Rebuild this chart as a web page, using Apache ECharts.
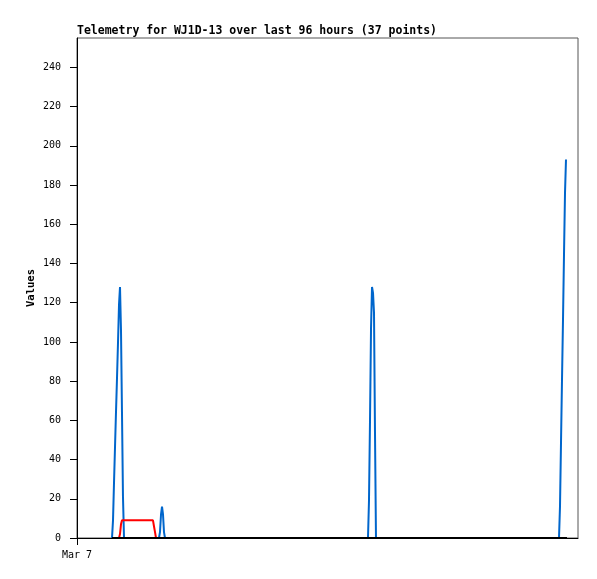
<!DOCTYPE html>
<html>
<head>
<meta charset="utf-8">
<script src="https://cdn.jsdelivr.net/npm/echarts@6/dist/echarts.min.js"></script>
<style>html,body{margin:0;padding:0;background:#fff}#c{width:597px;height:579px}</style>
</head>
<body>
<div id="c"></div>
<script>
// Hours since Mar 7 00:00
var blueTimes = [6.71, 6.90, 7.09, 7.28, 7.47, 7.67, 7.86, 8.05, 8.24, 8.43, 8.62, 8.81, 9.01,
                 15.71, 15.90, 16.10, 16.29, 16.48, 16.67, 16.86,
                 55.76, 55.95, 56.14, 56.34, 56.53, 56.72, 56.91, 57.10, 57.29,
                 92.36, 92.55, 92.74, 92.93, 93.13, 93.32, 93.51, 93.70];
var blueValues = [0, 9, 28, 46, 64, 82, 100, 119, 128, 106, 64, 21, 0,
                  0, 3, 12, 16, 12, 3, 0,
                  0, 19, 59, 107, 128, 125, 115, 54, 0,
                  0, 16, 48, 80, 112, 145, 176, 193];
var redTimes = [8.05, 8.24, 8.43, 8.62, 14.56, 14.75, 14.95, 15.14];
var redValues = [0, 2, 7, 9, 9, 6, 3, 0];
var zeroTimes = [6.71, 93.89];
var zeroValues = [0, 0];
var xTickLabels = ['Mar 7'];
var xTickValues = [0];

function zip(a, b) { return a.map(function (v, i) { return [v, b[i]]; }); }

var mono = 'DejaVu Sans Mono';
var chart = echarts.init(document.getElementById('c'), null, {renderer: 'canvas'});
chart.setOption({
  animation: false,
  backgroundColor: '#fff',
  title: {
    text: 'Telemetry for WJ1D-13 over last 96 hours (37 points)',
    left: 77, top: 25, padding: 0,
    textStyle: {fontFamily: mono, fontWeight: 'bold', fontSize: 11.5, color: '#000'}
  },
  grid: {left: 77, top: 38, right: 19, bottom: 41, show: true, borderColor: '#555', borderWidth: 1, containLabel: false},
  xAxis: {
    type: 'value', min: 0, max: 96,
    splitLine: {show: false},
    axisLine: {show: true, onZero: false, lineStyle: {color: '#000', width: 1}},
    axisTick: {show: true, length: 7, customValues: xTickValues, lineStyle: {color: '#000'}},
    axisLabel: {
      customValues: xTickValues, margin: 12,
      fontFamily: mono, fontSize: 10, color: '#000',
      formatter: function (v) { var i = xTickValues.indexOf(v); return i >= 0 ? xTickLabels[i] : ''; }
    }
  },
  yAxis: {
    type: 'value', min: 0, max: 255, interval: 20,
    name: 'Values', nameLocation: 'middle', nameRotate: 90, nameGap: 40, nameMoveOverlap: false,
    nameTextStyle: {fontFamily: mono, fontWeight: 'bold', fontSize: 10.5, color: '#000'},
    splitLine: {show: false},
    axisLine: {show: true, lineStyle: {color: '#000', width: 1}},
    axisTick: {show: true, length: 7, lineStyle: {color: '#000'}},
    axisLabel: {margin: 16, fontFamily: mono, fontSize: 10, color: '#000', showMaxLabel: false}
  },
  series: [
    {type: 'line', data: zip(blueTimes, blueValues), symbol: 'none', lineStyle: {color: '#0066cc', width: 2}, z: 2},
    {type: 'line', data: zip(redTimes, redValues), symbol: 'none', lineStyle: {color: '#ff0000', width: 2}, z: 3},
    {type: 'line', data: zip(zeroTimes, zeroValues), symbol: 'none', lineStyle: {color: '#000', width: 2}, z: 4}
  ]
});
</script>
</body>
</html>
